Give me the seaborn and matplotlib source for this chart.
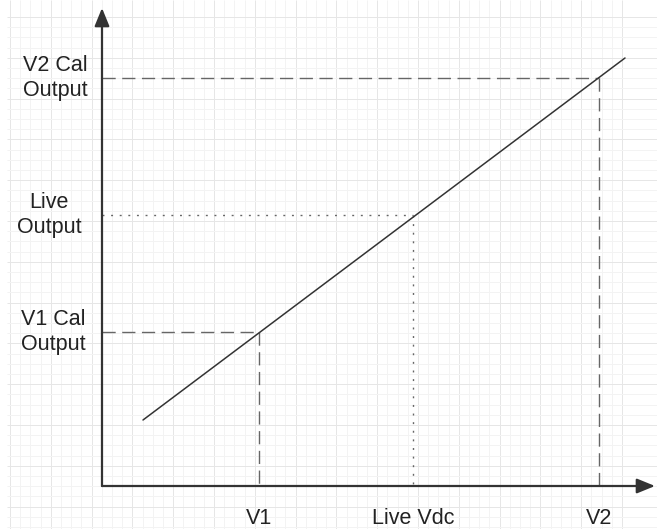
import numpy as np
import matplotlib
matplotlib.use('Agg')
import matplotlib.pyplot as plt
import seaborn as sns

# 数据：输入电压（横轴）与对应输出（纵轴），单位为示意刻度
x_labels = ['V1', 'Live Vdc', 'V2']
x_values = [157, 311, 497]
y_labels = ['V1 Cal\nOutput', 'Live\nOutput', 'V2 Cal\nOutput']
y_values = [154, 271, 408]
guide_styles = ['dashed', 'dotted', 'dashed']

# 传递函数直线的两个端点
line_x = [41, 523]
line_y = [66, 428]

sns.set_style('white')
plt.rcParams['font.family'] = ['Liberation Sans', 'DejaVu Sans']

fig = plt.figure(figsize=(6.57, 5.29), dpi=100)
ax = fig.add_axes([0, 0, 1, 1])
ax.set_xlim(-102, 555)
ax.set_ylim(-43, 486)
ax.axis('off')

# 背景网格（类似 draw.io）
gx = np.arange(520, -96, -10.2)
gy = np.arange(469, -44, -10.2)
for i, x in enumerate(gx):
    c = '#e6e6e6' if i % 4 == 0 else '#f3f3f3'
    ax.vlines(x, -43, 486, color=c, lw=0.72, zorder=0)
for i, y in enumerate(gy):
    c = '#e6e6e6' if i % 4 == 0 else '#f3f3f3'
    ax.hlines(y, -95, 555, color=c, lw=0.72, zorder=0)

# 坐标轴箭头
arrow = dict(arrowstyle='-|>,head_length=1.1,head_width=0.45', lw=1.6,
             color='#333333', shrinkA=0, shrinkB=0)
ax.annotate('', xy=(0, 478), xytext=(0, 0), arrowprops=arrow, zorder=5)
ax.annotate('', xy=(553, 0), xytext=(0, 0), arrowprops=arrow, zorder=5)

# 辅助线
for xv, yv, st in zip(x_values, y_values, guide_styles):
    dash = (9.5, 4.7) if st == 'dashed' else (1.4, 4.8)
    ax.plot([0, xv], [yv, yv], color='#666666', lw=1.0, dashes=dash, zorder=2)
    ax.plot([xv, xv], [yv, 0], color='#666666', lw=1.0, dashes=dash, zorder=2)

# 主直线
sns.lineplot(x=line_x, y=line_y, ax=ax, color='#333333', lw=1.1, zorder=3)

# 标签
for xv, lab in zip(x_values, x_labels):
    ax.text(xv, -38, lab, ha='center', va='baseline', fontsize=15.5, color='#222222')
for yv, lab, xo in zip(y_values, y_labels, [-49, -53, -47]):
    ax.text(xo, yv, lab, ha='center', va='center', fontsize=15.5, color='#222222',
            linespacing=1.2)

fig.savefig('out.png', dpi=100)
